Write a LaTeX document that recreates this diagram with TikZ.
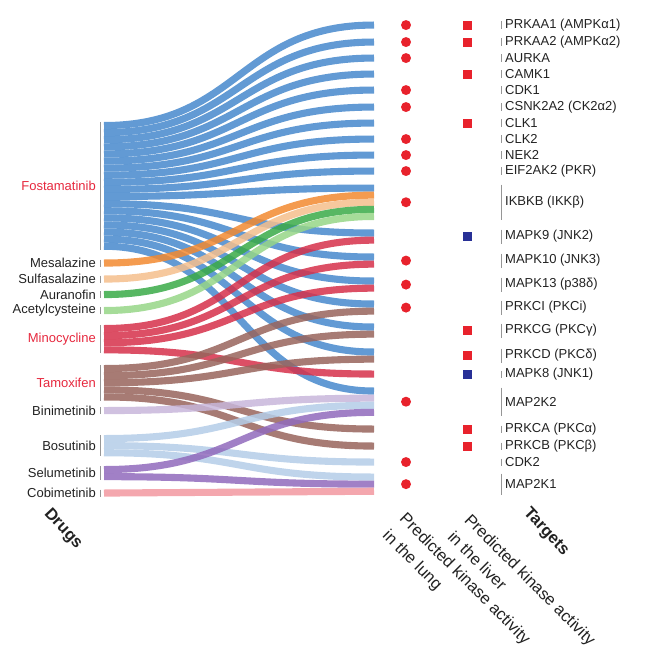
\documentclass[tikz,border=0pt]{standalone}
\usepackage{fontspec}
\setmainfont{Liberation Sans}
\usetikzlibrary{positioning,calc}

\definecolor{cFos}{RGB}{70,136,204}
\definecolor{cMes}{RGB}{242,137,48}
\definecolor{cSul}{RGB}{245,190,140}
\definecolor{cAur}{RGB}{58,170,72}
\definecolor{cAce}{RGB}{150,214,135}
\definecolor{cMin}{RGB}{214,48,74}
\definecolor{cTam}{RGB}{152,100,92}
\definecolor{cBin}{RGB}{200,182,218}
\definecolor{cBos}{RGB}{180,205,232}
\definecolor{cSel}{RGB}{144,106,188}
\definecolor{cCob}{RGB}{242,152,160}
\definecolor{hitred}{RGB}{232,34,44}
\definecolor{hitblue}{RGB}{40,48,150}
\definecolor{labred}{RGB}{230,40,62}
\definecolor{labtxt}{RGB}{34,34,34}
\definecolor{bargray}{RGB}{150,150,150}

\newcommand\linkw{7.1}
% colour, drug, slot, target, slot
\newcommand\sklink[5]{\draw[link,#1] ($(#2)+(0,#3*\linkw+0.5*\linkw)$) .. controls +(135,0) and +(-135,0) .. ($(#4)+(0,#5*\linkw+0.5*\linkw)$);}

\begin{document}
\begin{tikzpicture}[x=1pt,y=-1pt,
    link/.style={line width=7.1pt,opacity=0.85},
    bar/.style={draw=bargray,line width=1pt},
    dlabel/.style={anchor=east,inner sep=2pt,font=\fontsize{13}{15}\selectfont},
    tlabel/.style={anchor=west,inner sep=2pt,text=labtxt,font=\fontsize{13}{15}\selectfont},
    axis/.style={inner sep=0pt,text=labtxt,font=\fontsize{16.5}{24}\selectfont}]
    \useasboundingbox (0,0) rectangle (650,663);
    \coordinate (lung) at (406,0);
    \coordinate (liver) at (467,0);

    % drugs
    \foreach \nm/\ty/\n/\txt/\col in {fos/122/18/Fostamatinib/labred,
        mes/259.5/1/Mesalazine/labtxt, sul/275.5/1/Sulfasalazine/labtxt,
        aur/291/1/Auranofin/labtxt, ace/307/1/Acetylcysteine/labtxt,
        min/325/4/Minocycline/labred, tam/365/5/Tamoxifen/labred,
        bin/407/1/Binimetinib/labtxt, bos/435/3/Bosutinib/labtxt,
        sel/466/2/Selumetinib/labtxt, cob/489.5/1/Cobimetinib/labtxt} {
        \coordinate (\nm) at (104,\ty);
        \draw[bar] (100,\ty) -- ++(0,\n*\linkw);
        \node[dlabel,text=\col] (d\nm) at (98,\ty+\n*\linkw/2) {\txt};
    }

    % targets
    \foreach \nm/\ty/\n/\txt in {aa1/21.5/1/PRKAA1 (AMPKα1), aa2/38.5/1/PRKAA2 (AMPKα2),
        aurka/54.5/1/AURKA, camk1/70.5/1/CAMK1, cdk1/86.5/1/CDK1,
        ck2/103.5/1/CSNK2A2 (CK2α2), clk1/119.5/1/CLK1, clk2/135.5/1/CLK2,
        nek2/151.5/1/NEK2, pkr/167.5/1/EIF2AK2 (PKR), ikbkb/184.5/5/IKBKB (IKKβ),
        jnk2/229.5/2/MAPK9 (JNK2), jnk3/253.5/2/MAPK10 (JNK3),
        p38/277.5/2/MAPK13 (p38δ), pkci/300.5/2/PRKCI (PKCi),
        pkcg/323.5/2/PRKCG (PKCγ), pkcd/348.5/2/PRKCD (PKCδ),
        jnk1/370.5/1/MAPK8 (JNK1), mek2/387.5/4/MAP2K2,
        pkca/425.5/1/PRKCA (PKCα), pkcb/442.5/1/PRKCB (PKCβ),
        cdk2/458.5/1/CDK2, mek1/473.5/3/MAP2K1} {
        \coordinate (\nm) at (374,\ty);
        \draw[bar] (501,\ty) -- ++(0,\n*\linkw);
        \node[tlabel] (t\nm) at (503,\ty+\n*\linkw/2) {\txt};
    }

    % links
    \foreach \tg [count=\i from 0] in {aa1,aa2,aurka,camk1,cdk1,ck2,clk1,clk2,nek2,pkr,
        ikbkb,jnk2,jnk3,p38,pkci,pkcg,pkcd,mek2} {
        \sklink{cFos}{fos}{\i}{\tg}{0}
    }
    \sklink{cMes}{mes}{0}{ikbkb}{1}
    \sklink{cSul}{sul}{0}{ikbkb}{2}
    \sklink{cAur}{aur}{0}{ikbkb}{3}
    \sklink{cAce}{ace}{0}{ikbkb}{4}
    \sklink{cMin}{min}{0}{jnk2}{1}
    \sklink{cMin}{min}{1}{jnk3}{1}
    \sklink{cMin}{min}{2}{p38}{1}
    \sklink{cMin}{min}{3}{jnk1}{0}
    \sklink{cTam}{tam}{0}{pkci}{1}
    \sklink{cTam}{tam}{1}{pkcg}{1}
    \sklink{cTam}{tam}{2}{pkcd}{1}
    \sklink{cTam}{tam}{3}{pkca}{0}
    \sklink{cTam}{tam}{4}{pkcb}{0}
    \sklink{cBin}{bin}{0}{mek2}{1}
    \sklink{cBos}{bos}{0}{mek2}{2}
    \sklink{cBos}{bos}{1}{cdk2}{0}
    \sklink{cBos}{bos}{2}{mek1}{0}
    \sklink{cSel}{sel}{0}{mek2}{3}
    \sklink{cSel}{sel}{1}{mek1}{1}
    \sklink{cCob}{cob}{0}{mek1}{2}

    % predicted activity
    \foreach \nm in {aa1,aa2,aurka,cdk1,ck2,clk2,nek2,pkr,ikbkb,jnk3,p38,pkci,mek2,cdk2,mek1} {
        \fill[hitred] (t\nm.west -| lung) circle (5pt);
    }
    \foreach \nm in {aa1,aa2,camk1,clk1,pkcg,pkcd,pkca,pkcb} {
        \fill[hitred] ($(t\nm.west -| liver)+(-4.5,-4.5)$) rectangle ++(9,9);
    }
    \foreach \nm in {jnk2,jnk1} {
        \fill[hitblue] ($(t\nm.west -| liver)+(-4.5,-4.5)$) rectangle ++(9,9);
    }

    \node[axis,rotate=-47] (drugs) at (63,529) {\bfseries Drugs};
    \node[axis,rotate=-47] (targets) at (546,532) {\bfseries Targets};
    \node[axis,rotate=-45,align=left] (inlung) at (456,588) {Predicted kinase activity\\in the lung};
    \node[axis,rotate=-45,align=left] (inliver) at (522,588) {Predicted kinase activity\\in the liver};
\end{tikzpicture}
\end{document}
